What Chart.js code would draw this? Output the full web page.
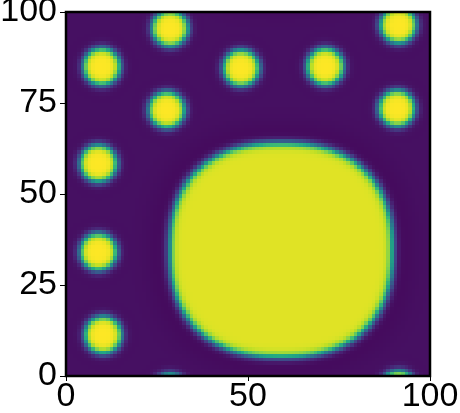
<!DOCTYPE html>
<html><head><meta charset="utf-8">
<script src="https://cdn.jsdelivr.net/npm/chart.js@4.4.1/dist/chart.umd.min.js"></script>
<style>html,body{margin:0;padding:0;background:#fff;}#wrap{width:460px;height:413px;}</style>
</head><body><div id="wrap"><canvas id="c" width="460" height="413"></canvas></div>
<script>
// ---- data (in data units 0..100) ----
const xTicks = [0, 50, 100];
const yTicks = [0, 25, 50, 75, 100];
const gridSize = 100;               // cells per side
// small droplets
const dropletX = [9.8, 28.6, 27.7, 48.1, 71.2, 91.3, 90.9, 8.9, 8.9, 10.2];
const dropletY = [85.0, 95.5, 73.1, 84.6, 85.0, 96.4, 73.5, 58.4, 34.1, 11.3];
const dropletR = [5.0, 4.9, 4.9, 4.9, 5.0, 4.9, 4.9, 5.0, 5.0, 5.0];
const dropletLevel = [1, 1, 1, 1, 1, 1, 1, 1, 1, 1];
// large rounded blob
const blobCenter = [59.1, 34.6];
const blobHalfSize = [30.6, 29.4];
const blobShape = [2.4];
const blobLevel = [0.955];
// matrix / interface
const matrixLevel = [0.045];
const interfaceWidth = [1.2];

function wrap(d) { if (d > 50) d -= 100; if (d < -50) d += 100; return d; }
function buildField() {
  const w = interfaceWidth[0];
  const f = [];
  for (let j = 0; j < gridSize; j++) {
    const row = [];
    for (let i = 0; i < gridSize; i++) {
      const x = i + 0.5, y = j + 0.5;
      let phiSum = 0, val = 0, dip = 0;
      for (let k = 0; k < dropletX.length; k++) {
        const dx = wrap(x - dropletX[k]), dy = wrap(y - dropletY[k]);
        const d = Math.hypot(dx, dy) - dropletR[k];
        const phi = 0.5 * (1 - Math.tanh(d / w));
        phiSum += phi; val += phi * dropletLevel[k];
        if (d > 0) dip = Math.max(dip, 0.02 * Math.exp(-d / 3));
      }
      const bx = Math.abs(wrap(x - blobCenter[0])) / blobHalfSize[0];
      const by = Math.abs(wrap(y - blobCenter[1])) / blobHalfSize[1];
      const F = Math.pow(Math.pow(bx, blobShape[0]) + Math.pow(by, blobShape[0]), 1 / blobShape[0]);
      const db = (F - 1) * Math.min(blobHalfSize[0], blobHalfSize[1]);
      const phiB = 0.5 * (1 - Math.tanh(db / w));
      phiSum += phiB; val += phiB * blobLevel[0];
      if (db > 0) dip = Math.max(dip, 0.045 * Math.exp(-db / 4));
      phiSum = Math.min(phiSum, 1);
      let v = val + (1 - phiSum) * (matrixLevel[0] - dip);
      row.push(Math.max(0, Math.min(1, v)));
    }
    f.push(row);
  }
  return f;
}
const fieldValues = buildField();

const viridis = ['#440154','#482475','#414487','#355f8d','#2a788e','#21918c','#22a884','#44bf70','#7ad151','#bddf26','#fde725']
  .map(h => [parseInt(h.slice(1,3),16), parseInt(h.slice(3,5),16), parseInt(h.slice(5,7),16)]);
function cmap(v) {
  const t = Math.max(0, Math.min(1, v)) * (viridis.length - 1);
  const i = Math.min(Math.floor(t), viridis.length - 2), f = t - i;
  const a = viridis[i], b = viridis[i + 1];
  return 'rgb(' + [0,1,2].map(c => Math.round(a[c] + (b[c] - a[c]) * f)).join(',') + ')';
}

const heatmapPlugin = {
  id: 'heatmap',
  beforeDatasetsDraw(chart) {
    const ctx = chart.ctx, xs = chart.scales.x, ys = chart.scales.y;
    ctx.save();
    for (let j = 0; j < gridSize; j++) {
      const y0 = Math.round(ys.getPixelForValue((j + 1) * 100 / gridSize));
      const y1 = Math.round(ys.getPixelForValue(j * 100 / gridSize));
      for (let i = 0; i < gridSize; i++) {
        const x0 = Math.round(xs.getPixelForValue(i * 100 / gridSize));
        const x1 = Math.round(xs.getPixelForValue((i + 1) * 100 / gridSize));
        ctx.fillStyle = cmap(fieldValues[j][i]);
        ctx.fillRect(x0, y0, x1 - x0, y1 - y0);
      }
    }
    ctx.restore();
  }
};
const framePlugin = {
  id: 'frame',
  afterDraw(chart) {
    const a = chart.chartArea, ctx = chart.ctx;
    ctx.save();
    ctx.strokeStyle = '#000'; ctx.lineWidth = 2.5;
    ctx.strokeRect(a.left, a.top, a.right - a.left, a.bottom - a.top);
    ctx.restore();
  }
};

const tickFont = { family: "'Liberation Sans', Arial, Helvetica, sans-serif", size: 34 };
new Chart(document.getElementById('c'), {
  type: 'scatter',
  data: { datasets: [{ data: [], pointRadius: 0 }] },
  options: {
    responsive: false, animation: false, devicePixelRatio: 1,
    layout: { padding: { top: 12, right: 30, left: 0, bottom: 0 } },
    plugins: { legend: { display: false }, tooltip: { enabled: false } },
    scales: {
      x: {
        type: 'linear', min: 0, max: 100,
        afterBuildTicks: s => { s.ticks = xTicks.map(v => ({ value: v })); },
        ticks: { font: tickFont, color: '#000', padding: -5, maxRotation: 0, autoSkip: false },
        grid: { display: true, drawOnChartArea: false, drawTicks: true, tickLength: 5, color: '#000', lineWidth: 1 },
        border: { display: false },
        afterFit: s => { s.height = 37; s.paddingLeft = 0; s.paddingRight = 0; }
      },
      y: {
        type: 'linear', min: 0, max: 100,
        afterBuildTicks: s => { s.ticks = yTicks.map(v => ({ value: v })); },
        ticks: { font: tickFont, color: '#000', padding: 3, autoSkip: false },
        grid: { display: true, drawOnChartArea: false, drawTicks: true, tickLength: 6, color: '#000', lineWidth: 1 },
        border: { display: false },
        afterFit: s => { s.width = 66; s.paddingTop = 0; s.paddingBottom = 0; }
      }
    }
  },
  plugins: [heatmapPlugin, framePlugin]
});
</script></body></html>
